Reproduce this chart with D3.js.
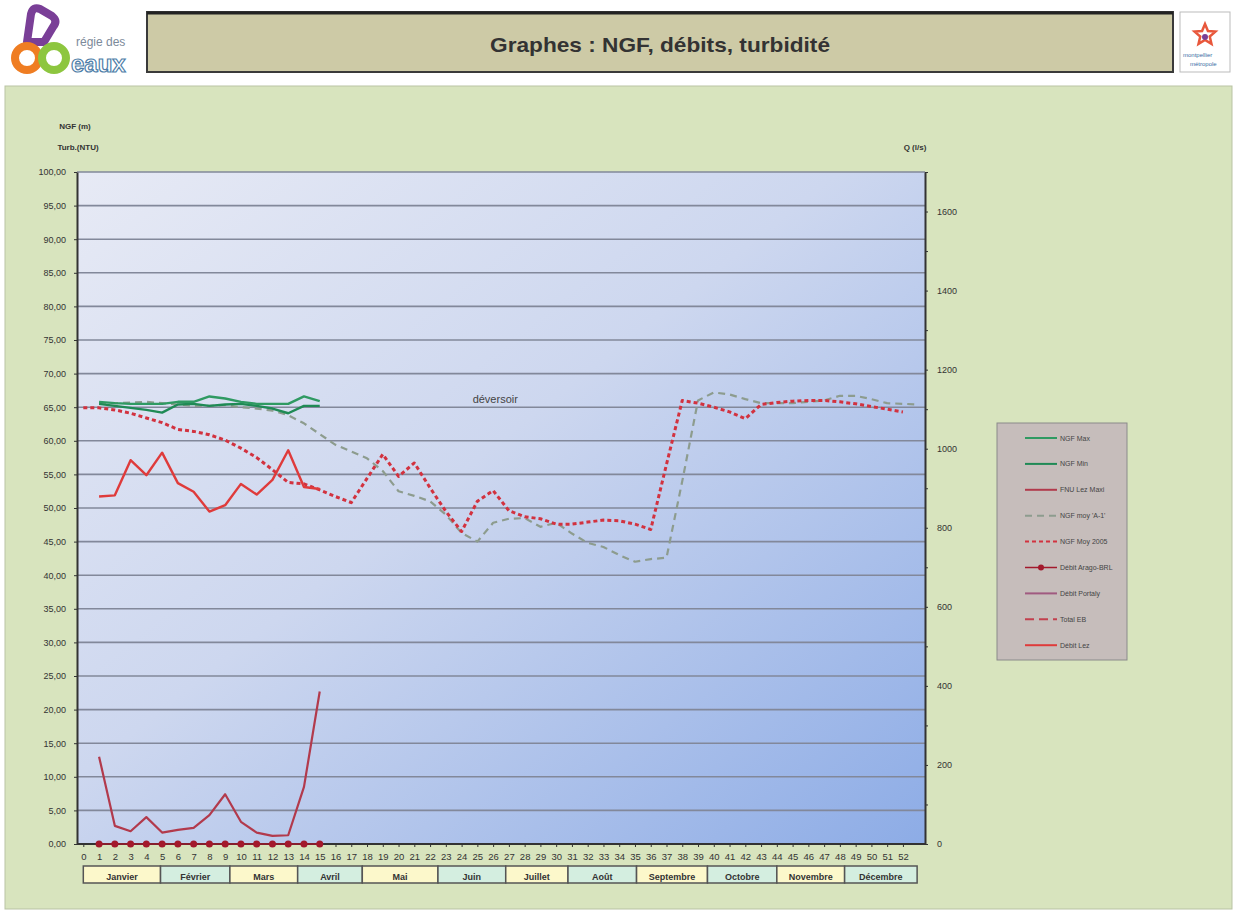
<!DOCTYPE html>
<html>
<head>
<meta charset="utf-8">
<title>Graphes : NGF, débits, turbidité</title>
<script src="https://cdn.jsdelivr.net/npm/d3@7/dist/d3.min.js"></script>
<style>
  body { margin: 0; background: #fff; }
  svg { display: block; font-family: "Liberation Sans", Arial, sans-serif; }
  .tick text { fill: #333; }
  .axis .domain { stroke: #333; stroke-width: 2; }
  .axis line { stroke: #333; }
</style>
</head>
<body>
<script>
// ---- data ----
var weeks = d3.range(0, 53);
var monthNames = ["Janvier","Février","Mars","Avril","Mai","Juin","Juillet","Août","Septembre","Octobre","Novembre","Décembre"];
var monthBounds = [0, 4.9, 9.3, 13.6, 17.7, 22.5, 26.8, 30.75, 35.1, 39.6, 44, 48.3, 52.9];

// NGF (m), left axis, from week 1
var ngfMax = [65.8, 65.6, 65.5, 65.5, 65.5, 65.8, 65.8, 66.6, 66.3, 65.8, 65.5, 65.5, 65.5, 66.6, 65.9];
var ngfMin = [65.5, 65.2, 64.9, 64.6, 64.2, 65.4, 65.5, 65.2, 65.4, 65.5, 65.2, 64.8, 64.1, 65.2, 65.2];
// turbidité (NTU), left axis, from week 1
var fnuLezMaxi = [13.0, 2.7, 1.9, 4.0, 1.7, 2.1, 2.4, 4.3, 7.4, 3.3, 1.7, 1.2, 1.3, 8.5, 22.7];
// NGF moy 'A-1', from week 1 to 53
var ngfMoyA1 = [65.6, 65.6, 65.7, 65.8, 65.6, 65.4, 65.2, 65.2, 65.3, 65.0, 64.8, 64.5, 63.8, 62.6, 61.0,
                59.4, 58.4, 57.4, 55.5, 52.5, 51.8, 51.0, 49.0, 46.3, 45.0, 47.8, 48.4, 48.5, 47.2, 47.8,
                46.2, 44.8, 44.2, 43.0, 42.0, 42.4, 42.6, 54.0, 66.0, 67.2, 66.9, 66.2, 65.6, 65.6, 65.6,
                65.8, 66.0, 66.7, 66.7, 66.2, 65.6, 65.5, 65.4];
// NGF Moy 2005, from week 0 to 52
var ngfMoy2005 = [64.9, 64.9, 64.6, 64.1, 63.4, 62.7, 61.7, 61.4, 60.9, 60.1, 58.9, 57.5, 55.7, 53.8, 53.6,
                  52.7, 51.7, 50.8, 54.4, 58.0, 54.7, 56.7, 53.0, 49.5, 46.5, 51.0, 52.6, 49.6, 48.7, 48.4,
                  47.6, 47.6, 47.9, 48.2, 48.1, 47.6, 46.8, 56.5, 66.0, 65.6, 65.0, 64.3, 63.3, 65.4, 65.7,
                  65.9, 66.0, 66.0, 65.8, 65.5, 65.1, 64.7, 64.3];
// débits (l/s), right axis, from week 1
var debitAragoBRL = [0, 0, 0, 0, 0, 0, 0, 0, 0, 0, 0, 0, 0, 0, 0];
var debitLez = [879, 882, 971, 933, 990, 913, 891, 841, 857, 911, 884, 921, 996, 903, 898];

var legendNames = ["NGF Max", "NGF Min", "FNU Lez Maxi", "NGF moy 'A-1'", "NGF Moy 2005",
                   "Débit Arago-BRL", "Débit Portaly", "Total EB", "Débit Lez"];

// ---- styles ----
var styles = {
  "NGF Max":        {color: "#2f9a62", width: 2.4, dash: null},
  "NGF Min":        {color: "#1f8a55", width: 2.4, dash: null},
  "FNU Lez Maxi":   {color: "#b23a4c", width: 2.2, dash: null},
  "NGF moy 'A-1'":  {color: "#8d9c8e", width: 2.2, dash: "7,5"},
  "NGF Moy 2005":   {color: "#d2323f", width: 3, dash: "4,3"},
  "Débit Arago-BRL":{color: "#a3192c", width: 1.5, dash: null, dot: true},
  "Débit Portaly":  {color: "#a05a80", width: 2, dash: null},
  "Total EB":       {color: "#c2404e", width: 2, dash: "9,5"},
  "Débit Lez":      {color: "#df3b3b", width: 2.4, dash: null}
};

var W = 1234, H = 911;
var plot = {left: 77, right: 925, top: 172, bottom: 844};

var svg = d3.select("body").append("svg").attr("width", W).attr("height", H);
var defs = svg.append("defs");
var grad = defs.append("linearGradient").attr("id", "plotbg")
  .attr("x1", 0).attr("y1", 0).attr("x2", 1).attr("y2", 1);
grad.append("stop").attr("offset", "0%").attr("stop-color", "#e7eaf5");
grad.append("stop").attr("offset", "45%").attr("stop-color", "#cdd7ef");
grad.append("stop").attr("offset", "100%").attr("stop-color", "#8dace6");

// ---- header ----
var logo = svg.append("g");
logo.append("path").attr("d", "M27,42 L31,14 Q33,6 40,9 L52,16 Q58,21 53,27 L44,42 Z")
  .attr("fill", "none").attr("stroke", "#7a3f97").attr("stroke-width", 8).attr("stroke-linejoin", "round");
logo.append("circle").attr("cx", 27).attr("cy", 58).attr("r", 12).attr("fill", "none").attr("stroke", "#ef7d22").attr("stroke-width", 8);
logo.append("circle").attr("cx", 54).attr("cy", 58).attr("r", 12).attr("fill", "none").attr("stroke", "#8dc63f").attr("stroke-width", 8);
logo.append("text").attr("x", 76).attr("y", 46).attr("font-size", 12).attr("fill", "#7c8a9a").text("régie des");
logo.append("text").attr("x", 71).attr("y", 72).attr("font-size", 24).attr("font-weight", "bold")
  .attr("fill", "#fff").attr("stroke", "#4e7ea8").attr("stroke-width", 1.2).text("eaux");

svg.append("rect").attr("x", 147).attr("y", 12).attr("width", 1026).attr("height", 60)
  .attr("fill", "#cdcaa6").attr("stroke", "#3a3a3a").attr("stroke-width", 2);
svg.append("line").attr("x1", 147).attr("x2", 1173).attr("y1", 13).attr("y2", 13).attr("stroke", "#222").attr("stroke-width", 3);
svg.append("text").attr("x", 660).attr("y", 52).attr("text-anchor", "middle")
  .attr("font-size", 21).attr("font-weight", "bold").attr("fill", "#333")
  .attr("textLength", 340).attr("lengthAdjust", "spacingAndGlyphs")
  .text("Graphes : NGF, débits, turbidité");

var rl = svg.append("g");
rl.append("rect").attr("x", 1180).attr("y", 12).attr("width", 50).attr("height", 60)
  .attr("fill", "#fff").attr("stroke", "#bbb");
var star = d3.range(10).map(function(i) {
  var r = i % 2 ? 5 : 11, a = -Math.PI / 2 + i * Math.PI / 5;
  return [1205 + r * Math.cos(a), 35 + r * Math.sin(a)];
});
rl.append("path").attr("d", d3.line()(star) + "Z").attr("fill", "none").attr("stroke", "#e8573b").attr("stroke-width", 2.5);
rl.append("circle").attr("cx", 1205).attr("cy", 37).attr("r", 3).attr("fill", "#7a3f97");
rl.append("text").attr("x", 1183).attr("y", 57).attr("font-size", 6).attr("fill", "#3a6ea5").text("montpellier");
rl.append("text").attr("x", 1190).attr("y", 66).attr("font-size", 6).attr("fill", "#3a6ea5").text("métropole");

// ---- main panel ----
svg.append("rect").attr("x", 5).attr("y", 86).attr("width", 1227).attr("height", 823)
  .attr("fill", "#d8e4be").attr("stroke", "#b9c3a4");

var x = d3.scaleLinear().domain([-0.4, 53.4]).range([plot.left, plot.right]);
var yL = d3.scaleLinear().domain([0, 100]).range([plot.bottom, plot.top]);
var yR = d3.scaleLinear().domain([0, 1700]).range([plot.bottom, plot.top]);

svg.append("rect").attr("x", plot.left).attr("y", plot.top)
  .attr("width", plot.right - plot.left).attr("height", plot.bottom - plot.top)
  .attr("fill", "url(#plotbg)");

// gridlines
svg.append("g").selectAll("line").data(d3.range(5, 101, 5)).join("line")
  .attr("x1", plot.left).attr("x2", plot.right)
  .attr("y1", function(d) { return yL(d); }).attr("y2", function(d) { return yL(d); })
  .attr("stroke", "#82889a").attr("stroke-width", 1.6);

// axes
var fmt = function(d) { return d3.format(".2f")(d).replace(".", ","); };
var gL = svg.append("g").attr("class", "axis").attr("transform", "translate(" + plot.left + ",0)")
  .call(d3.axisLeft(yL).tickValues(d3.range(0, 101, 5)).tickFormat(fmt).tickSize(3).tickSizeOuter(0).tickPadding(8));
gL.selectAll("text").attr("font-size", 9);

var gR = svg.append("g").attr("class", "axis").attr("transform", "translate(" + plot.right + ",0)")
  .call(d3.axisRight(yR).tickValues(d3.range(0, 1701, 100))
    .tickFormat(function(d) { return d % 200 === 0 && d <= 1600 ? d : ""; })
    .tickSize(3).tickSizeOuter(0).tickPadding(9));
gR.selectAll("text").attr("font-size", 9);

var gX = svg.append("g").attr("class", "axis").attr("transform", "translate(0," + plot.bottom + ")")
  .call(d3.axisBottom(x).tickValues(weeks).tickFormat(d3.format("d")).tickSize(3).tickSizeOuter(0).tickPadding(6));
gX.select(".domain").attr("d", "M" + plot.left + ",0H" + plot.right);
gX.selectAll("text").attr("font-size", 9.5);

// axis titles
svg.append("text").attr("x", 75).attr("y", 129).attr("text-anchor", "middle").attr("font-size", 8)
  .attr("font-weight", "bold").attr("fill", "#333").text("NGF (m)");
svg.append("text").attr("x", 78).attr("y", 150).attr("text-anchor", "middle").attr("font-size", 8)
  .attr("font-weight", "bold").attr("fill", "#333").text("Turb.(NTU)");
svg.append("text").attr("x", 915).attr("y", 150).attr("text-anchor", "middle").attr("font-size", 8)
  .attr("font-weight", "bold").attr("fill", "#333").text("Q (l/s)");

// month boxes
var mg = svg.append("g").selectAll("g").data(monthNames).join("g");
mg.append("rect")
  .attr("x", function(d, i) { return x(monthBounds[i]); })
  .attr("width", function(d, i) { return x(monthBounds[i + 1]) - x(monthBounds[i]); })
  .attr("y", 866).attr("height", 17)
  .attr("fill", function(d, i) { return i % 2 ? "#d4eee0" : "#fcf8cb"; })
  .attr("stroke", "#555").attr("stroke-width", 1.5);
mg.append("text")
  .attr("x", function(d, i) { return (x(monthBounds[i]) + x(monthBounds[i + 1])) / 2; })
  .attr("y", 880).attr("text-anchor", "middle").attr("font-size", 9).attr("font-weight", "bold")
  .attr("fill", "#333").text(function(d) { return d; });

// ---- series ----
function draw(name, values, start, scale) {
  var st = styles[name];
  var pts = values.map(function(v, i) { return [start + i, v]; });
  var line = d3.line().x(function(d) { return x(d[0]); }).y(function(d) { return scale(d[1]); });
  svg.append("path").datum(pts).attr("d", line)
    .attr("fill", "none").attr("stroke", st.color).attr("stroke-width", st.width)
    .attr("stroke-dasharray", st.dash).attr("stroke-linejoin", "round");
  if (st.dot) {
    svg.append("g").selectAll("circle").data(pts).join("circle")
      .attr("cx", function(d) { return x(d[0]); }).attr("cy", function(d) { return scale(d[1]); })
      .attr("r", 3.5).attr("fill", st.color);
  }
}
draw("NGF moy 'A-1'", ngfMoyA1, 1, yL);
draw("NGF Moy 2005", ngfMoy2005, 0, yL);
draw("Débit Lez", debitLez, 1, yR);
draw("NGF Min", ngfMin, 1, yL);
draw("NGF Max", ngfMax, 1, yL);
draw("FNU Lez Maxi", fnuLezMaxi, 1, yL);
draw("Débit Arago-BRL", debitAragoBRL, 1, yR);

svg.append("text").attr("x", x(24.7)).attr("y", yL(65.6)).attr("font-size", 11).attr("fill", "#444").text("déversoir");

// ---- legend ----
var lg = svg.append("g");
lg.append("rect").attr("x", 997).attr("y", 423).attr("width", 130).attr("height", 237)
  .attr("fill", "#c6bdbb").attr("stroke", "#8a8a8a");
var li = lg.selectAll("g").data(legendNames).join("g")
  .attr("transform", function(d, i) { return "translate(1025," + (438 + i * 25.9) + ")"; });
li.append("line").attr("x1", 0).attr("x2", 32).attr("y1", 0).attr("y2", 0)
  .attr("stroke", function(d) { return styles[d].color; })
  .attr("stroke-width", function(d) { return Math.min(styles[d].width, 2); })
  .attr("stroke-dasharray", function(d) { return styles[d].dash; });
li.filter(function(d) { return styles[d].dot; }).append("circle").attr("cx", 16).attr("r", 3)
  .attr("fill", function(d) { return styles[d].color; });
li.append("text").attr("x", 35).attr("y", 2.5).attr("font-size", 7).attr("fill", "#444")
  .text(function(d) { return d; });
</script>
</body>
</html>
